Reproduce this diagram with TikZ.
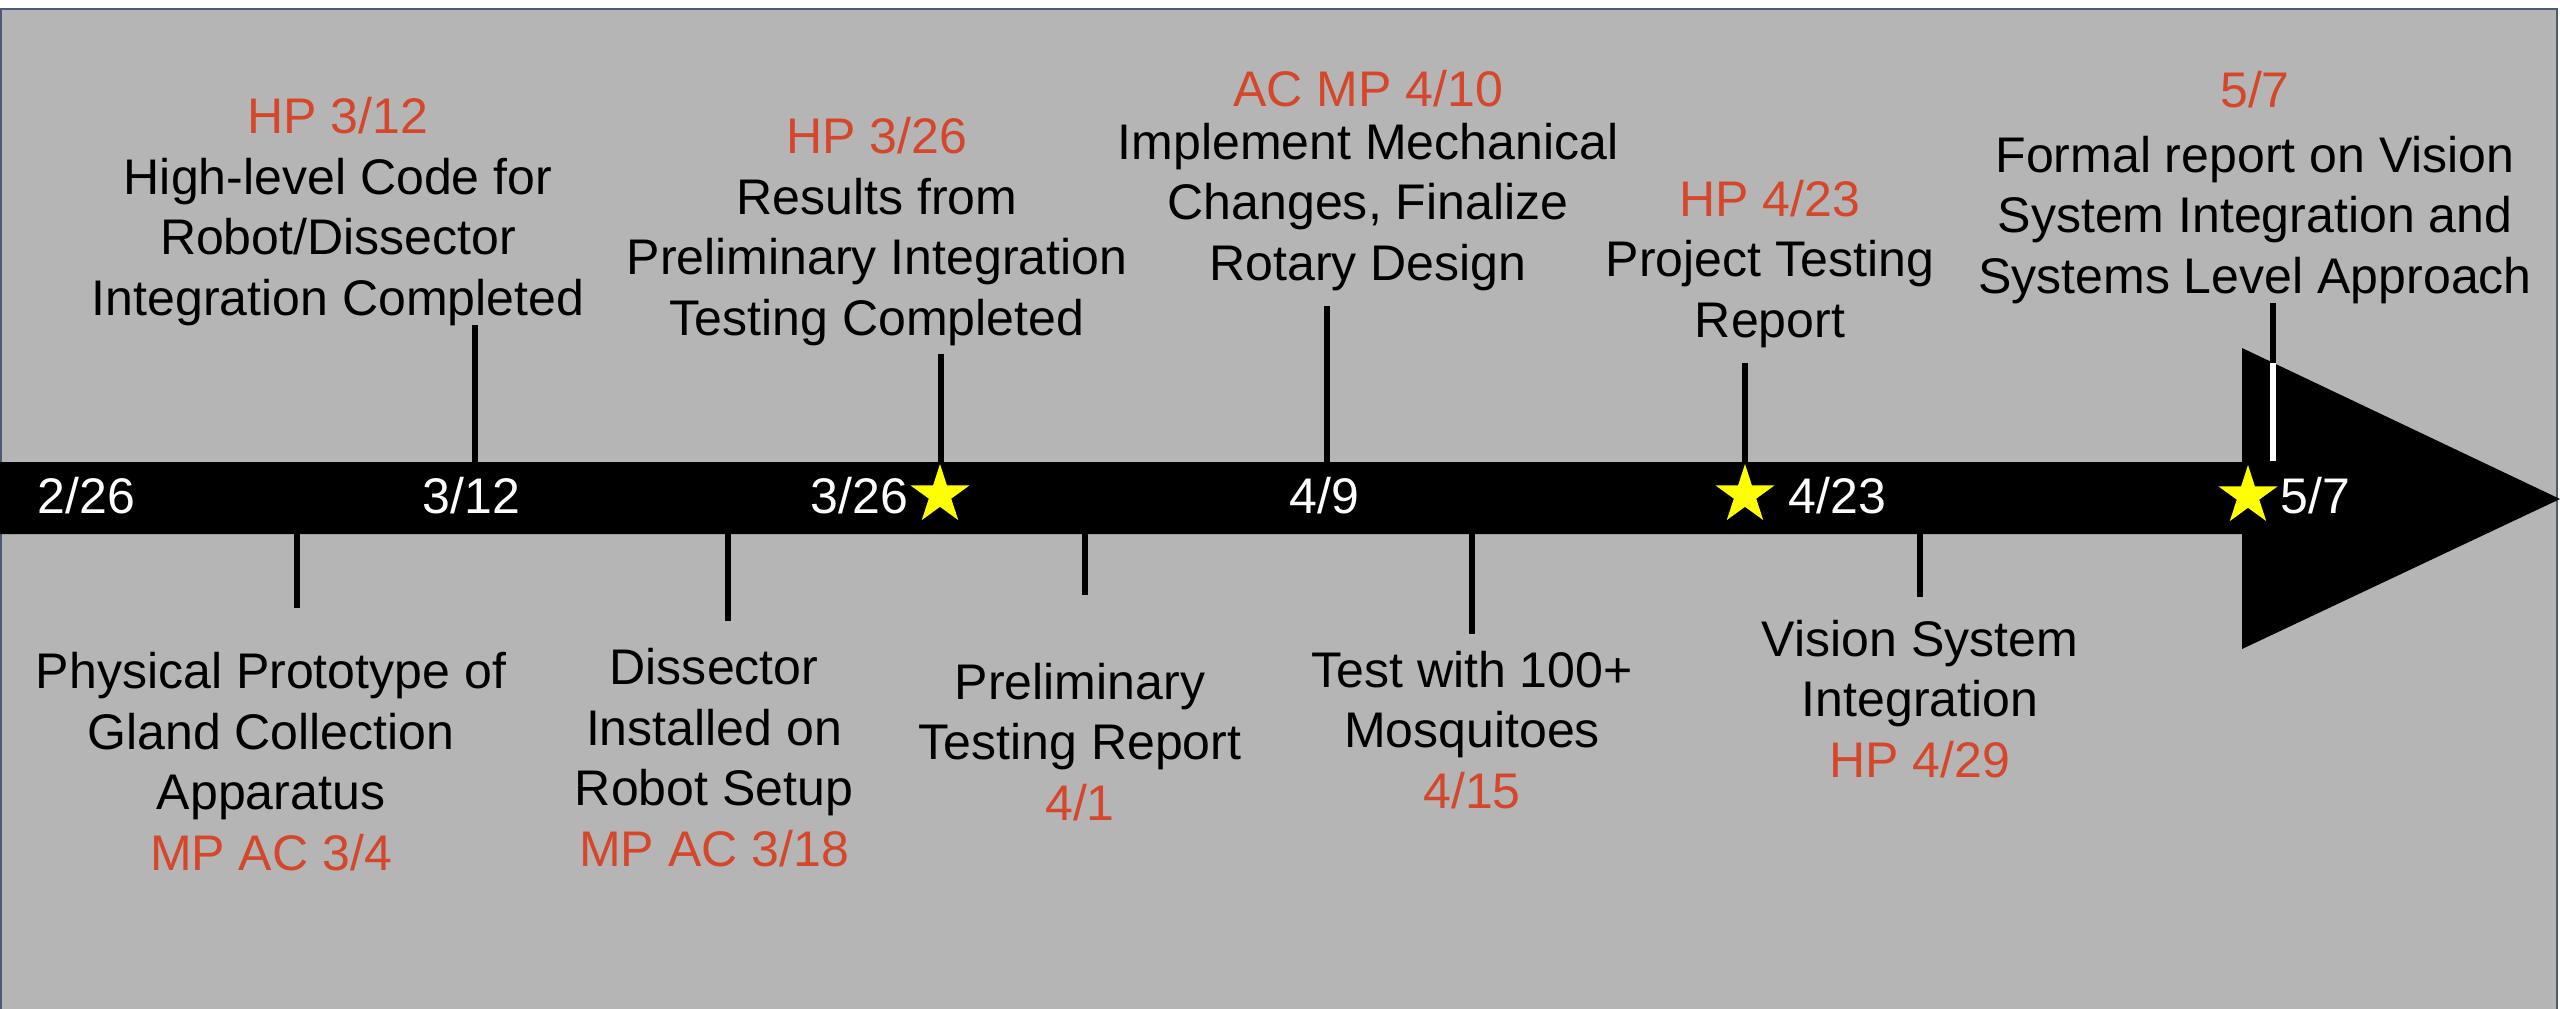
\documentclass[tikz,border=0pt]{standalone}
\usepackage{fontspec}
\setmainfont{Liberation Sans}
\definecolor{panel}{RGB}{181,181,181}
\definecolor{frame}{RGB}{74,90,120}
\definecolor{due}{RGB}{213,71,43}
\definecolor{starfill}{RGB}{255,255,0}
\tikzset{
  pics/goldstar/.style={code={
    \fill[starfill] (270:31) -- (306:11.8) -- (342:31) -- (18:11.8) -- (54:31)
      -- (90:11.8) -- (126:31) -- (162:11.8) -- (198:31) -- (234:11.8) -- cycle;}},
}
\begin{document}
\begin{tikzpicture}[x=0.01cm,y=-0.01cm,
  % multi-line labels are placed by the baseline of their last line
  txt/.style={font=\fontsize{14.23pt}{17.2pt}\selectfont, align=center, inner sep=0pt, anchor=base},
  datelbl/.style={font=\fontsize{14.23pt}{17.2pt}\selectfont, text=white, inner sep=0pt, anchor=base west},
  tick/.style={line width=0.06cm, black}]
\useasboundingbox (0,0) rectangle (2560,1008);
% page and panel
\fill[white] (0,0) rectangle (2560,1008);
\filldraw[fill=panel, draw=frame, line width=0.02cm] (1,9) rectangle (2557,1030);

% timeline bar with arrow head
\fill[black] (0,462) -- (2242,462) -- (2242,348) -- (2560,499) -- (2242,649)
  -- (2242,534) -- (0,534) -- cycle;

% tick end points
\coordinate (ta1) at (475,325);  \coordinate (tb1) at (475,462);
\coordinate (ta2) at (941,354);  \coordinate (tb2) at (941,462);
\coordinate (ta3) at (1327,306); \coordinate (tb3) at (1327,462);
\coordinate (ta4) at (1745,363); \coordinate (tb4) at (1745,462);
\coordinate (ta5) at (2273,303); \coordinate (tb5) at (2273,461);
\coordinate (tw5) at (2273,363);
\coordinate (ba1) at (297,534);  \coordinate (bb1) at (297,608);
\coordinate (ba2) at (728,534);  \coordinate (bb2) at (728,621);
\coordinate (ba3) at (1085,534); \coordinate (bb3) at (1085,595);
\coordinate (ba4) at (1472,534); \coordinate (bb4) at (1472,634);
\coordinate (ba5) at (1920,534); \coordinate (bb5) at (1920,597);

\draw[tick] (ta1) -- (tb1);
\draw[tick] (ta2) -- (tb2);
\draw[tick] (ta3) -- (tb3);
\draw[tick] (ta4) -- (tb4);
\draw[tick] (ta5) -- (tb5);
\draw[tick, white] (tw5) -- (tb5);
\draw[tick] (ba1) -- (bb1);
\draw[tick] (ba2) -- (bb2);
\draw[tick] (ba3) -- (bb3);
\draw[tick] (ba4) -- (bb4);
\draw[tick] (ba5) -- (bb5);

% milestone stars
\pic at (940,495) {goldstar};
\pic at (1745,495) {goldstar};
\pic at (2248,496) {goldstar};

% dates on the bar
\node[datelbl] (d1) at (37,513) {2/26};
\node[datelbl] (d2) at (422,513) {3/12};
\node[datelbl] (d3) at (810,513) {3/26};
\node[datelbl] (d4) at (1289,513) {4/9};
\node[datelbl] (d5) at (1788,513) {4/23};
\node[datelbl] (d6) at (2280,513) {5/7};

% deliverables above the bar
\node[txt] (u1) at (338,315) {\textcolor{due}{HP 3/12}\\High-level Code for\\Robot/Dissector\\Integration Completed};
\node[txt] (u2) at (877,335) {\textcolor{due}{HP 3/26}\\Results from\\Preliminary Integration\\Testing Completed};
\node[txt] (u3) at (1368,280) {\textcolor{due}{AC MP 4/10}\\[-0.08cm]Implement Mechanical\\Changes, Finalize\\Rotary Design};
\node[txt] (u4) at (1770,337) {\textcolor{due}{HP 4/23}\\Project Testing\\Report};
\node[txt] (u5) at (2255,293) {\textcolor{due}{5/7}\\[0.045cm]Formal report on Vision\\System Integration and\\Systems Level Approach};

% deliverables below the bar
\node[txt] (l1) at (271,870) {Physical Prototype of\\Gland Collection\\Apparatus\\\textcolor{due}{MP AC 3/4}};
\node[txt] (l2) at (714,866) {Dissector\\Installed on\\Robot Setup\\\textcolor{due}{MP AC 3/18}};
\node[txt] (l3) at (1080,820) {Preliminary\\Testing Report\\\textcolor{due}{4/1}};
\node[txt] (l4) at (1472,808) {Test with 100+\\Mosquitoes\\\textcolor{due}{4/15}};
\node[txt] (l5) at (1920,777) {Vision System\\Integration\\\textcolor{due}{HP 4/29}};
\end{tikzpicture}
\end{document}
